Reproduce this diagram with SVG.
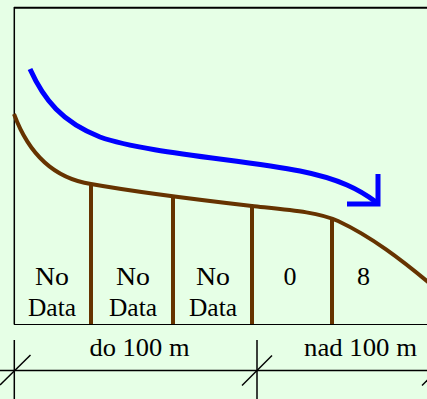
<svg xmlns="http://www.w3.org/2000/svg" width="427" height="399" viewBox="0 0 427 399">
<style>
text{font-family:'Liberation Serif',serif;font-size:26px;fill:#000;text-anchor:middle}
.brown{stroke:#663300;stroke-width:4;fill:none}
.blk{stroke:#000;fill:none}
</style>
<rect width="427" height="399" fill="#e6ffe6"/>
<g id="frame">
<line class="blk" x1="14" y1="7.7" x2="427" y2="7.7" stroke-width="2"/>
<line class="blk" x1="14.3" y1="7" x2="14.3" y2="324.5" stroke-width="1.5"/>
<line class="blk" x1="14" y1="324.5" x2="427" y2="324.5" stroke-width="1.2"/>
</g>
<g id="terrain">
<path class="brown" d="M14,114 C28,152 52,178 91,184 C130,191 200,200 252,206 C290,210 318,212 338,221 C370,236 400,258 440,292"/>
<line class="brown" x1="91" y1="183" x2="91" y2="324"/>
<line class="brown" x1="173" y1="198" x2="173" y2="324"/>
<line class="brown" x1="252" y1="205" x2="252" y2="324"/>
<line class="brown" x1="332" y1="218" x2="332" y2="324"/>
</g>
<g id="flow">
<path d="M30,69 C44,100 62,122 100,137 C145,153 245,160 300,171 C340,179 360,190 376,202" stroke="#0000ff" stroke-width="5" fill="none"/>
<polyline points="347,204 378,204 378,174" stroke="#0000ff" stroke-width="5" fill="none"/>
</g>
<g id="cells">
<text x="52" y="285" textLength="34" lengthAdjust="spacingAndGlyphs">No</text>
<text x="52" y="316" textLength="48" lengthAdjust="spacingAndGlyphs">Data</text>
<text x="133" y="285" textLength="34" lengthAdjust="spacingAndGlyphs">No</text>
<text x="133" y="316" textLength="48" lengthAdjust="spacingAndGlyphs">Data</text>
<text x="213" y="285" textLength="34" lengthAdjust="spacingAndGlyphs">No</text>
<text x="213" y="316" textLength="48" lengthAdjust="spacingAndGlyphs">Data</text>
<text x="290" y="285" textLength="13" lengthAdjust="spacingAndGlyphs">0</text>
<text x="363.5" y="285" textLength="13" lengthAdjust="spacingAndGlyphs">8</text>
</g>
<g id="dimension">
<line class="blk" x1="0" y1="370.5" x2="427" y2="370.5" stroke-width="1.6"/>
<line class="blk" x1="14.3" y1="340" x2="14.3" y2="399" stroke-width="1.5"/>
<line class="blk" x1="0" y1="385" x2="30.5" y2="355" stroke-width="1.5"/>
<line class="blk" x1="257" y1="340" x2="257" y2="399" stroke-width="1.5"/>
<line class="blk" x1="242" y1="385.5" x2="272" y2="355.5" stroke-width="1.5"/>
<line class="blk" x1="422" y1="385.5" x2="452" y2="355.5" stroke-width="1.5"/>
<text x="139.5" y="356" textLength="100" lengthAdjust="spacingAndGlyphs">do 100 m</text>
<text x="360.5" y="356" textLength="113" lengthAdjust="spacingAndGlyphs">nad 100 m</text>
</g>
</svg>
